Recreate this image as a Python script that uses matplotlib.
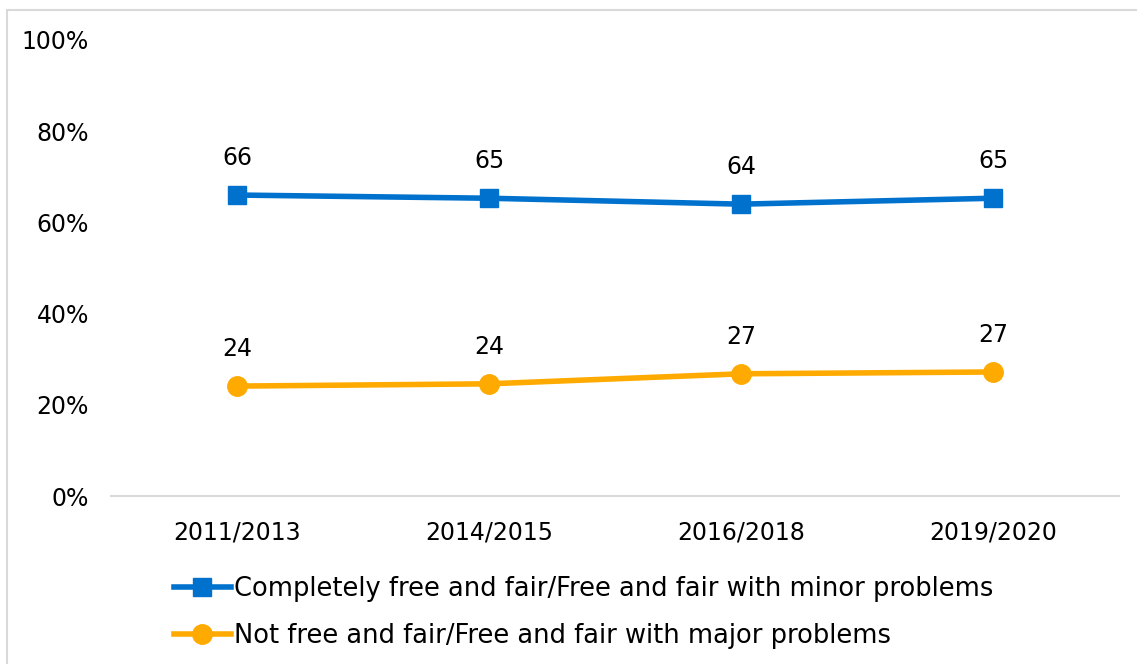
import matplotlib
matplotlib.use('Agg')
import matplotlib.pyplot as plt
from matplotlib.patches import Rectangle
from matplotlib.lines import Line2D

plt.rcParams['font.family'] = ['DejaVu Sans']

# Datos
periods = ['2011/2013', '2014/2015', '2016/2018', '2019/2020']
free_fair = [66.0, 65.3, 64.0, 65.3]
not_free = [24.1, 24.6, 26.8, 27.2]
free_labels = ['66', '65', '64', '65']
not_free_labels = ['24', '24', '27', '27']
yticks = [0, 20, 40, 60, 80, 100]

blue = '#0072CE'
orange = '#FFAA00'

fig = plt.figure(figsize=(11.37, 6.64), dpi=100)
ax = fig.add_axes([111 / 1137, 1 - 496 / 664, 1008 / 1137, 456 / 664])

# borde gris del gráfico
fig.patches.append(Rectangle((7 / 1137, -0.05), 1.2, 1 - 10 / 664 + 0.05,
                             transform=fig.transFigure, fill=False,
                             edgecolor='#D9D9D9', linewidth=1.5))

x = range(len(periods))
ax.plot(x, free_fair, color=blue, linewidth=4, marker='s', markersize=13.5,
        label='Completely free and fair/Free and fair with minor problems')
ax.plot(x, not_free, color=orange, linewidth=4, marker='o', markersize=14,
        label='Not free and fair/Free and fair with major problems')

for i in x:
    ax.annotate(free_labels[i], (i, free_fair[i]), xytext=(0, 18),
                textcoords='offset points', ha='center', va='bottom', fontsize=17)
    ax.annotate(not_free_labels[i], (i, not_free[i]), xytext=(0, 18),
                textcoords='offset points', ha='center', va='bottom', fontsize=17)

ax.set_xlim(-0.5, len(periods) - 0.5)
ax.set_ylim(0, 100)
ax.set_yticks(yticks)
ax.set_yticklabels([f'{v}%' for v in yticks], fontsize=17)
ax.set_xticks(list(x))
ax.set_xticklabels(periods, fontsize=17)
ax.tick_params(length=0, pad=18)
ax.tick_params(axis='y', pad=16)

for s in ['top', 'right', 'left']:
    ax.spines[s].set_visible(False)
ax.spines['bottom'].set_color('#D9D9D9')
ax.spines['bottom'].set_linewidth(1.5)

h1 = Line2D([], [], color=blue, linewidth=4, marker='s', markersize=13.5)
h2 = Line2D([], [], color=orange, linewidth=4, marker='o', markersize=14)
fig.legend([h1, h2],
           ['Completely free and fair/Free and fair with minor problems',
            'Not free and fair/Free and fair with major problems'],
           loc='upper left', bbox_to_anchor=(156 / 1137, 1 - 558 / 664),
           frameon=False, fontsize=18.5, handlelength=2.2, handletextpad=0.15,
           labelspacing=0.8, borderpad=0.2)

fig.savefig('out.png', dpi=100)
